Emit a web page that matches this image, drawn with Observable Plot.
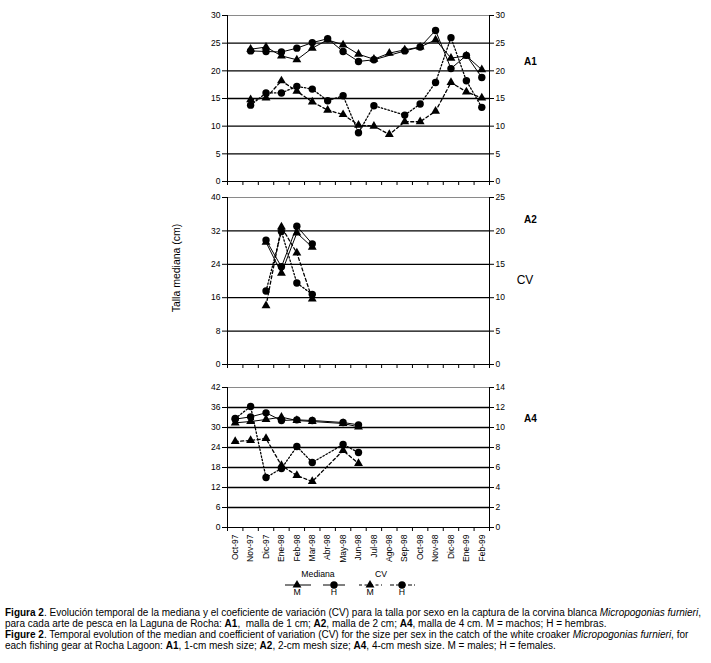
<!DOCTYPE html>
<html><head><meta charset="utf-8">
<script src="https://cdn.jsdelivr.net/npm/d3@7"></script>
<script src="https://cdn.jsdelivr.net/npm/@observablehq/plot@0.6"></script>
<style>
body{margin:0;background:#fff;}
#wrap{position:relative;width:711px;height:663px;background:#fff;overflow:hidden;}
#wrap svg.layer{position:absolute;left:0;}
#caption{position:absolute;left:5px;top:607px;width:706px;font-family:"Liberation Sans Narrow","Arial Narrow","Liberation Sans",Arial,sans-serif;font-size:10px;line-height:11px;color:#000;white-space:nowrap;}
</style></head>
<body><div id="wrap"><div id="caption"></div></div>
<script>
// ---- categories ----
const months = ["Oct-97","Nov-97","Dic-97","Ene-98","Feb-98","Mar-98","Abr-98","May-98","Jun-98","Jul-98","Ago-98","Sep-98","Oct-98","Nov-98","Dic-98","Ene-99","Feb-99"];

// ---- A1 (1-cm mesh) ----
const a1MedianaM = [null,23.9,24.3,22.7,22.0,24.1,25.6,24.7,23.0,22.1,23.2,23.8,24.3,25.6,22.3,22.7,20.2];
const a1MedianaH = [null,23.6,23.5,23.4,24.1,25.1,25.8,23.5,21.7,22.0,null,23.6,24.3,27.3,20.4,22.8,18.8];
const a1CvM      = [null,14.8,15.1,18.2,16.3,14.4,12.9,12.1,10.2,10.0,8.5,10.8,10.8,12.7,17.9,16.2,15.1];
const a1CvH      = [null,13.8,16.0,16.0,17.2,16.7,14.6,15.5,8.8,13.7,null,12.0,14.0,17.9,26.0,18.2,13.4];

// ---- A2 (2-cm mesh) ----
const a2MedianaM = [null,null,29.3,21.9,31.5,28.1,null,null,null,null,null,null,null,null,null,null,null];
const a2MedianaH = [null,null,29.8,23.4,33.1,28.9,null,null,null,null,null,null,null,null,null,null,null];
const a2CvM      = [null,null,8.8,20.6,16.7,9.8,null,null,null,null,null,null,null,null,null,null,null];
const a2CvH      = [null,null,11.0,19.9,12.2,10.5,null,null,null,null,null,null,null,null,null,null,null];

// ---- A4 (4-cm mesh) ----
const a4MedianaM = [31.4,31.8,32.4,33.1,32.1,31.8,null,31.2,30.2,null,null,null,null,null,null,null,null];
const a4MedianaH = [32.5,33.2,34.4,32.1,32.3,32.1,null,31.5,30.8,null,null,null,null,null,null,null,null];
const a4CvM      = [8.6,8.7,8.9,6.2,5.2,4.6,null,7.7,6.4,null,null,null,null,null,null,null,null];
const a4CvH      = [10.9,12.1,5.0,5.9,8.1,6.5,null,8.3,7.5,null,null,null,null,null,null,null,null];

// ---- axis ticks ----
const a1Ticks = [0,5,10,15,20,25,30],  a1CvTicks = [0,5,10,15,20,25,30];
const a2Ticks = [0,8,16,24,32,40],     a2CvTicks = [0,5,10,15,20,25];
const a4Ticks = [0,6,12,18,24,30,36,42], a4CvTicks = [0,2,4,6,8,10,12,14];

const W = 711, ML = 227, MR = 222;
const FONT = '"Liberation Sans", Arial, sans-serif';
const wrap = document.getElementById("wrap");

function series(vals){ return vals.map((v,i)=>({x:i+0.5, y:v})).filter(d=>d.y!=null); }

function panel(cfg){
  const {top,height,mt,mb,ticks,cvTicks,medM,medH,cvM,cvH,labels} = cfg;
  const yMax = d3.max(ticks), cvMax = d3.max(cvTicks);
  const common = {width:W, height, marginTop:mt, marginBottom:mb, marginLeft:ML, marginRight:MR,
    x:{domain:[0,months.length], axis:null},
    style:{fontFamily:FONT, fontSize:"8.5px", color:"#000", background:"transparent", overflow:"visible"}};
  const left = Plot.plot({...common, y:{domain:[0,yMax], axis:null}, marks:[
    Plot.ruleY(ticks.filter(v=>v>0 && v<yMax), {stroke:"#000", strokeWidth:1.3}),
    Plot.ruleY([yMax], {stroke:"#8a8a8a", strokeWidth:1}),
    Plot.ruleX([0, months.length], {stroke:"#000", strokeWidth:1}),
    Plot.ruleY([0], {stroke:"#000", strokeWidth:1}),
    Plot.axisY(ticks, {anchor:"left", tickSize:5, tickPadding:2, label:null}),
    Plot.axisX(d3.range(months.length+1), {anchor:"bottom", tickSize:4, tickFormat:()=>"", label:null}),
    ...(labels ? [Plot.axisX(d3.range(months.length).map(i=>i+0.5), {anchor:"bottom", tickSize:0, tickPadding:7, tickRotate:-90, tickFormat:d=>months[Math.floor(d)], label:null})] : []),
    Plot.line(series(medM), {x:"x", y:"y", stroke:"#000", strokeWidth:1}),
    Plot.line(series(medH), {x:"x", y:"y", stroke:"#000", strokeWidth:1}),
    Plot.dot(series(medM), {x:"x", y:"y", symbol:"triangle", r:3.3, fill:"#000", stroke:"none"}),
    Plot.dot(series(medH), {x:"x", y:"y", symbol:"circle", r:3.7, fill:"#000", stroke:"none"})
  ]});
  const right = Plot.plot({...common, y:{domain:[0,cvMax], axis:null}, marks:[
    Plot.axisY(cvTicks, {anchor:"right", tickSize:4, tickPadding:2, label:null}),
    Plot.line(series(cvM), {x:"x", y:"y", stroke:"#000", strokeWidth:1.3, strokeDasharray:"3,2.5"}),
    Plot.line(series(cvH), {x:"x", y:"y", stroke:"#000", strokeWidth:1.3, strokeDasharray:"1.5,2"}),
    Plot.dot(series(cvM), {x:"x", y:"y", symbol:"triangle", r:3.3, fill:"#000", stroke:"none"}),
    Plot.dot(series(cvH), {x:"x", y:"y", symbol:"circle", r:3.7, fill:"#000", stroke:"none"})
  ]});
  for (const s of [left, right]) { s.classList.add("layer"); s.style.top = top + "px"; wrap.appendChild(s); }
}

panel({top:0, height:190, mt:15, mb:9, ticks:a1Ticks, cvTicks:a1CvTicks, medM:a1MedianaM, medH:a1MedianaH, cvM:a1CvM, cvH:a1CvH});
panel({top:190, height:183, mt:7, mb:9, ticks:a2Ticks, cvTicks:a2CvTicks, medM:a2MedianaM, medH:a2MedianaH, cvM:a2CvM, cvH:a2CvH});
panel({top:373, height:200, mt:14, mb:46, ticks:a4Ticks, cvTicks:a4CvTicks, medM:a4MedianaM, medH:a4MedianaH, cvM:a4CvM, cvH:a4CvH, labels:true});

// ---- annotations & legend ----
const ann = d3.select(wrap).append("svg").attr("class","layer").style("top","0px")
  .attr("width", W).attr("height", 663).style("font-family", FONT).style("pointer-events","none");
const panelNames = [["A1",65],["A2",223],["A4",422]];
ann.selectAll("text.pn").data(panelNames).join("text").attr("class","pn")
  .attr("x",524).attr("y",d=>d[1]).attr("font-size",10).attr("font-weight","bold").text(d=>d[0]);
ann.append("text").attr("x",525).attr("y",284).attr("text-anchor","middle").attr("font-size",12).text("CV");
ann.append("text").attr("transform","translate(180,268) rotate(-90)").attr("text-anchor","middle").attr("font-size",10.5).text("Talla mediana (cm)");

const legendGroups = [["Mediana",318],["CV",381]];
ann.selectAll("text.lg").data(legendGroups).join("text").attr("class","lg")
  .attr("x",d=>d[1]).attr("y",577).attr("text-anchor","middle").attr("font-size",8.7).text(d=>d[0]);
const legendItems = [
  {x0:285,x1:311,cx:297,sym:d3.symbolTriangle,dash:null,lab:"M",size:34},
  {x0:323,x1:345,cx:334,sym:d3.symbolCircle,dash:null,lab:"H",size:43},
  {x0:359,x1:382,cx:370,sym:d3.symbolTriangle,dash:"3,2.5",lab:"M",size:34},
  {x0:390,x1:415,cx:402,sym:d3.symbolCircle,dash:"4,2",lab:"H",size:43}
];
const ly = 585;
for (const it of legendItems){
  ann.append("line").attr("x1",it.x0).attr("x2",it.x1).attr("y1",ly).attr("y2",ly).attr("stroke","#000").attr("stroke-width",1).attr("stroke-dasharray",it.dash);
  ann.append("path").attr("transform",`translate(${it.cx},${ly})`).attr("d",d3.symbol(it.sym, it.size)()).attr("fill","#000");
  ann.append("text").attr("x",it.cx).attr("y",595).attr("text-anchor","middle").attr("font-size",8.7).text(it.lab);
}

document.getElementById("caption").innerHTML =
 '<b>Figura 2</b>. Evolución temporal de la mediana y el coeficiente de variación (CV) para la talla por sexo en la captura de la corvina blanca <i>Micropogonias furnieri</i>,<br>' +
 'para cada arte de pesca en la Laguna de Rocha: <b>A1</b>,&nbsp; malla de 1 cm; <b>A2</b>, malla de 2 cm; <b>A4</b>, malla de 4 cm. M = machos; H = hembras.<br>' +
 '<b>Figure 2</b>. Temporal evolution of the median and coefficient of variation (CV) for the size per sex in the catch of the white croaker <i>Micropogonias furnieri</i>, for<br>' +
 'each fishing gear at Rocha Lagoon: <b>A1</b>, 1-cm mesh size; <b>A2</b>, 2-cm mesh size; <b>A4</b>, 4-cm mesh size. M = males; H = females.';
</script>
</body></html>
